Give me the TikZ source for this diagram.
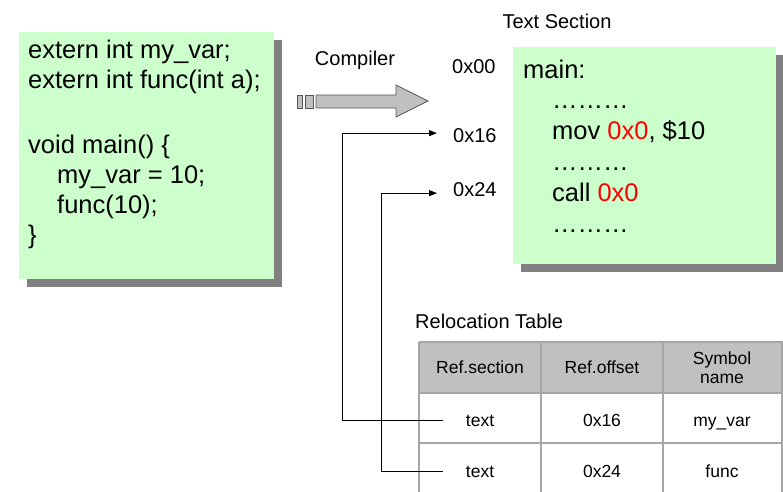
\documentclass[tikz,border=0pt]{standalone}
\usepackage{fontspec}
\setmainfont{Liberation Sans}
\usetikzlibrary{arrows.meta,shadows}
\definecolor{codegreen}{HTML}{CCFFCC}
\definecolor{shadowgray}{HTML}{808080}
\definecolor{headgray}{HTML}{C0C0C0}
\definecolor{gridgray}{HTML}{A6A6A6}
\definecolor{arrowedge}{HTML}{555555}
\tikzset{
  codebox/.style={draw=none, fill=codegreen, inner sep=0pt,
    drop shadow={shadow xshift=8pt, shadow yshift=-8pt, fill=shadowgray, opacity=1}},
  codeline/.style={inner sep=0pt, anchor=base west,
    font=\fontsize{25.5}{30}\selectfont},
  label/.style={inner sep=0pt, font=\fontsize{20}{24}\selectfont},
  celltext/.style={inner sep=0pt, anchor=base, align=center,
    font=\fontsize{17.5}{19}\selectfont},
  conn/.style={draw=black, line width=0.9pt, -{Triangle[length=8pt,width=6pt]}},
  blockarrow/.style={fill=headgray, draw=arrowedge, line width=0.7pt},
  grid line/.style={draw=gridgray, line width=1.3pt}
}
\begin{document}
\begin{tikzpicture}[x=1pt, y=-1pt]
\useasboundingbox (0,0) rectangle (783,491);
\clip (0,0) rectangle (783,491);

% source file
\node[codebox, minimum width=255pt, minimum height=247pt] (src) at (146.5,155.5) {};
\node[codeline] (c1) at (28,58) {extern int my\_var;};
\node[codeline] (c2) at (28,88) {extern int func(int a);};
\node[codeline] (c3) at (28,153) {void main() \{};
\node[codeline] (c4) at (57,183) {my\_var = 10;};
\node[codeline] (c5) at (57,213) {func(10);};
\node[codeline] (c6) at (28,243) {\}};

% compiler arrow
\filldraw[blockarrow] (297,95) rectangle (302,108);
\filldraw[blockarrow] (305,95) rectangle (313,108);
\filldraw[blockarrow] (316,95) -- (396,95) -- (396,85) -- (428,101) -- (396,117)
  -- (396,108) -- (316,108) -- cycle;
\node[label, anchor=base] (compiler) at (355,65) {Compiler};

% text section
\node[label, anchor=base] (tsec) at (557,28) {Text Section};
\node[codebox, minimum width=263pt, minimum height=217pt] (txt) at (644.5,155.5) {};
\node[codeline] (m1) at (523,78) {main:};
\node[codeline] (m2) at (552,108.8) {………};
\node[codeline] (m3) at (552,139.6) {mov {\color{red}0x0}, \$10};
\node[codeline] (m4) at (552,170.4) {………};
\node[codeline] (m5) at (552,201.2) {call {\color{red}0x0}};
\node[codeline] (m6) at (552,232) {………};

% offsets
\node[label, anchor=base west] (a00) at (452,73) {0x00};
\node[label, anchor=base west] (a16) at (453,142) {0x16};
\node[label, anchor=base west] (a24) at (453,196) {0x24};

% relocation table
\node[label, anchor=base west] (rtab) at (415,328) {Relocation Table};
\fill[headgray] (419,342) rectangle (790,393);
\fill[white] (419,393) rectangle (790,495);
\draw[grid line] (419,342) -- (790,342);
\draw[grid line] (419,393) -- (790,393);
\draw[grid line] (419,443) -- (790,443);
\draw[grid line] (419,342) -- (419,495);
\draw[grid line] (541,342) -- (541,495);
\draw[grid line] (663,342) -- (663,495);
\draw[grid line] (782,342) -- (782,495);

\node[celltext] (h1) at (480,373) {Ref.section};
\node[celltext] (h2) at (602,373) {Ref.offset};
\node[celltext, text width=90pt] (h3) at (722,364) {Symbol\\name};
\node[celltext] (t1) at (480,426) {text};
\node[celltext] (o1) at (602,426) {0x16};
\node[celltext] (s1) at (722,426) {my\_var};
\node[celltext] (t2) at (480,477) {text};
\node[celltext] (o2) at (602,477) {0x24};
\node[celltext] (s2) at (722,477) {func};

% relocation links
\draw[conn] ([xshift=-23pt]t1.west) -- ++(-100,0) |- ([xshift=-16pt,yshift=2pt]a16.west);
\draw[conn] ([xshift=-23pt]t2.west) -- ++(-61,0) |- ([xshift=-16pt,yshift=-4pt]a24.west);
\end{tikzpicture}
\end{document}
